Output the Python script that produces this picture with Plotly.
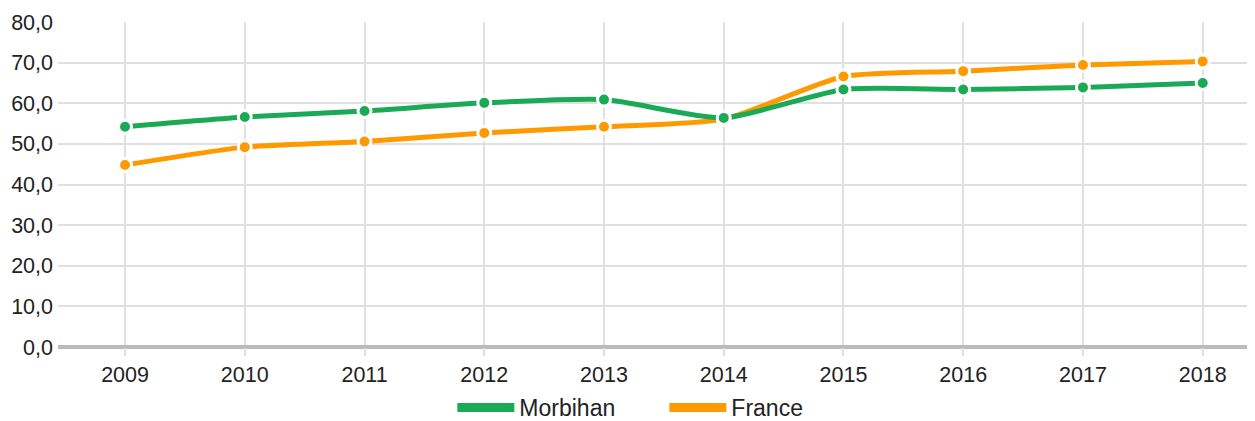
import plotly.graph_objects as go

years = [2009, 2010, 2011, 2012, 2013, 2014, 2015, 2016, 2017, 2018]
morbihan = [54.2, 56.6, 58.1, 60.1, 60.9, 56.4, 63.4, 63.4, 63.9, 65.0]
france = [44.8, 49.2, 50.6, 52.7, 54.2, 56.1, 66.6, 67.9, 69.4, 70.3]
series_names = ["Morbihan", "France"]
colors = ["#1aaa55", "#ff9900"]

fig = go.Figure()
# draw France first so Morbihan sits on top
for name, vals, col in reversed(list(zip(series_names, [morbihan, france], colors))):
    fig.add_trace(go.Scatter(
        x=years, y=vals, mode="lines+markers", name=name, showlegend=False,
        line=dict(color=col, width=5, shape="spline", smoothing=0.6),
        marker=dict(color=col, size=13, line=dict(color="white", width=3)),
        hoverinfo="x+y",
    ))
for name, col in zip(series_names, colors):
    fig.add_trace(go.Scatter(
        x=[None], y=[None], mode="lines", name=name,
        line=dict(color=col, width=9),
    ))

# page body has an 8px margin, so the figure is 8px smaller than the window
fig.update_layout(
    width=1247, height=413,
    margin=dict(l=50, r=2, t=14, b=74, autoexpand=False),
    plot_bgcolor="white", paper_bgcolor="white",
    separators=", ",
    font=dict(family="Liberation Sans", size=21.5, color="#222"),
    showlegend=True,
    legend=dict(orientation="h", x=0.33, xanchor="left", y=-0.186, yanchor="middle",
                itemwidth=57, entrywidth=140, entrywidthmode="pixels",
                font=dict(size=23), tracegroupgap=0),
    xaxis=dict(range=[2008.44, 2018.42], tickmode="array", tickvals=years,
               ticktext=[str(y) for y in years], automargin=False,
               showgrid=True, gridcolor="#e0e0e0", gridwidth=2,
               ticks="outside", ticklen=8, tickwidth=2, tickcolor="#e0e0e0",
               zeroline=False, showline=False),
    yaxis=dict(range=[0, 80], dtick=10, tickformat=".1f", automargin=False,
               showgrid=True, gridcolor="#e0e0e0", gridwidth=2,
               zeroline=True, zerolinecolor="#bbbbbb", zerolinewidth=4,
               showline=False, ticks="", ticklabelstandoff=4),
)

fig.write_html("out.html")
